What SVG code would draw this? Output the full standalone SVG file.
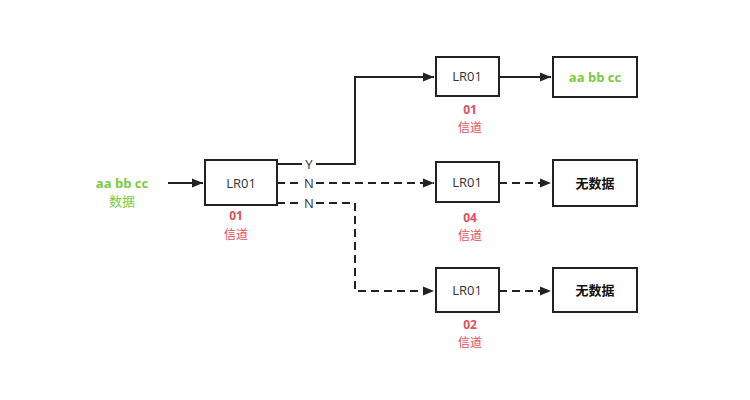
<svg xmlns="http://www.w3.org/2000/svg" width="750" height="400" viewBox="0 0 750 400">
<defs>
<marker id="arr" viewBox="0 0 10 10" refX="10" refY="5" markerWidth="5.5" markerHeight="5.5" orient="auto" markerUnits="strokeWidth">
<path d="M0,1 L10,5 L0,9 Z" fill="#222"/>
</marker>
<style>
.box{fill:#fff;stroke:#222;stroke-width:2}
.t{font-family:"Open Sans","Noto Sans","Noto Sans CJK SC",sans-serif;font-size:13px;fill:#333;text-anchor:middle}
.b{font-weight:bold;fill:#111}
.g{fill:#7ac943;font-weight:bold}
.gl{fill:#7ac943}
.r{fill:#e0505e;font-weight:bold;font-size:12px}
.rl{fill:#e0505e;font-size:12px}
.ln{fill:none;stroke:#222;stroke-width:2}
.d{stroke-dasharray:8,5}
.lab{font-family:"Open Sans","Noto Sans",sans-serif;font-size:13px;fill:#333;text-anchor:middle}
</style>
</defs>
<rect width="750" height="400" fill="#fff"/>
<g id="connectors">
<line class="ln" x1="168" y1="183" x2="203" y2="183" marker-end="url(#arr)"/>
<polyline class="ln" points="277,164 355,164 355,77 434,77" marker-end="url(#arr)"/>
<line class="ln d" x1="277" y1="183" x2="434" y2="183" marker-end="url(#arr)"/>
<polyline class="ln d" points="277,203 355,203 355,291 434,291" marker-end="url(#arr)"/>
<line class="ln" x1="499" y1="77" x2="551" y2="77" marker-end="url(#arr)"/>
<line class="ln d" x1="499" y1="183" x2="551" y2="183" marker-end="url(#arr)"/>
<line class="ln d" x1="499" y1="291" x2="551" y2="291" marker-end="url(#arr)"/>
<rect x="302" y="156" width="14" height="15" fill="#fff"/>
<rect x="302" y="175" width="14" height="16" fill="#fff"/>
<rect x="302" y="195" width="14" height="16" fill="#fff"/>
<text class="lab" x="309" y="169">Y</text>
<text class="lab" x="309" y="188">N</text>
<text class="lab" x="309" y="208">N</text>
</g>
<g id="input">
<text class="t g" x="122" y="188">aa bb cc</text>
<text class="t gl" x="122" y="206">数据</text>
</g>
<g id="main">
<rect class="box" x="205" y="160" width="72" height="45"/>
<text class="t" x="241" y="188">LR01</text>
<text class="t r" x="236" y="220">01</text>
<text class="t rl" x="236" y="239">信道</text>
</g>
<g id="lr-top">
<rect class="box" x="436" y="57" width="63" height="39"/>
<text class="t" x="467" y="81">LR01</text>
<text class="t r" x="470" y="114">01</text>
<text class="t rl" x="470" y="132">信道</text>
</g>
<g id="out-top">
<rect class="box" x="553" y="57" width="84" height="40"/>
<text class="t g" x="595" y="82">aa bb cc</text>
</g>
<g id="lr-mid">
<rect class="box" x="436" y="162" width="63" height="40"/>
<text class="t" x="467" y="187">LR01</text>
<text class="t r" x="470" y="222">04</text>
<text class="t rl" x="470" y="240">信道</text>
</g>
<g id="out-mid">
<rect class="box" x="553" y="160" width="84" height="46"/>
<text class="t b" x="595" y="188">无数据</text>
</g>
<g id="lr-bot">
<rect class="box" x="436" y="268" width="63" height="44"/>
<text class="t" x="467" y="295">LR01</text>
<text class="t r" x="470" y="329">02</text>
<text class="t rl" x="470" y="347">信道</text>
</g>
<g id="out-bot">
<rect class="box" x="553" y="268" width="84" height="44"/>
<text class="t b" x="595" y="295">无数据</text>
</g>
</svg>
